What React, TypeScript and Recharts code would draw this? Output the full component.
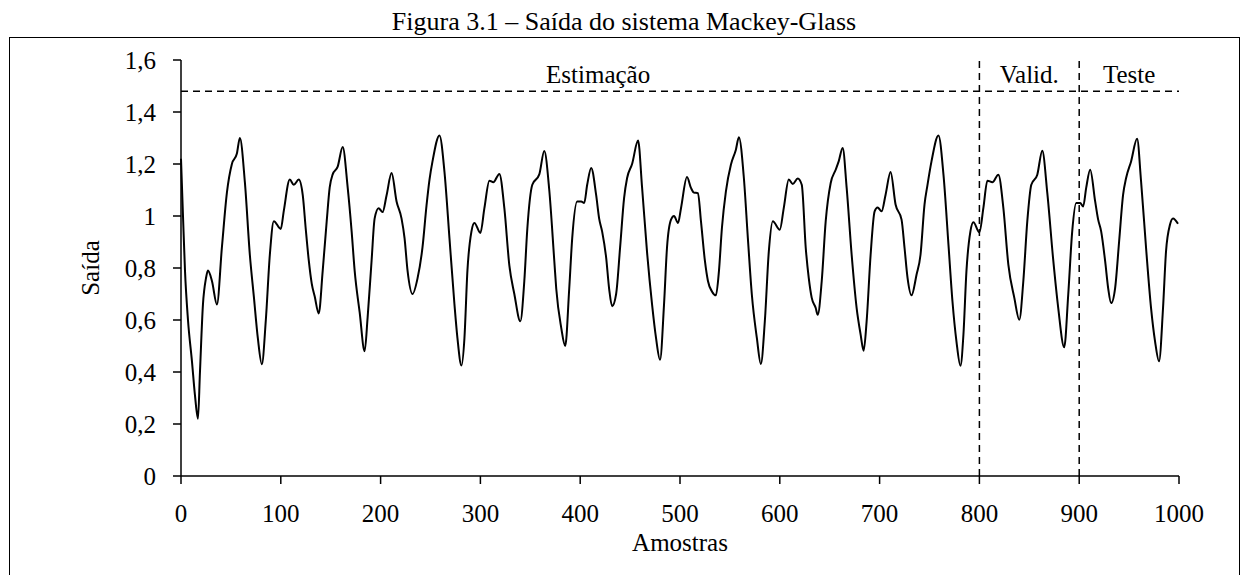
import {
  LineChart,
  Line,
  XAxis,
  YAxis,
  ReferenceLine,
  ReferenceDot,
} from 'recharts';

const FONT = '"Liberation Serif", "Times New Roman", serif';

// [amostra, saída]
const estimacao: [number, number][] = [
  [0, 1.22], [2, 1.0], [4, 0.79], [7, 0.6], [11, 0.44], [14, 0.31], [17, 0.22], [19, 0.4],
  [22, 0.66], [25, 0.76], [27, 0.79], [31, 0.75], [36, 0.66], [41, 0.88], [46, 1.09], [51, 1.2],
  [56, 1.24], [59, 1.3], [64, 1.13], [69, 0.85], [73, 0.69], [77, 0.53], [81, 0.43], [85, 0.6],
  [89, 0.85], [93, 0.98], [100, 0.95], [103, 1.02], [109, 1.14], [113, 1.12], [118, 1.14], [122, 1.08],
  [125, 0.95], [128, 0.83], [131, 0.74], [134, 0.69], [138, 0.625], [142, 0.79], [146, 0.98], [149, 1.11],
  [152, 1.16], [157, 1.19], [162, 1.265], [167, 1.11], [171, 0.94], [174, 0.79], [179, 0.63], [184, 0.48],
  [187, 0.61], [191, 0.83], [194, 0.99], [198, 1.03], [202, 1.015], [206, 1.08], [211, 1.165], [216, 1.056],
  [221, 0.99], [224, 0.915], [227, 0.79], [232, 0.7], [237, 0.76], [242, 0.88], [246, 1.04], [249, 1.14],
  [252, 1.21], [259, 1.31], [264, 1.17], [269, 0.915], [274, 0.66], [277, 0.53], [281, 0.425], [284, 0.53],
  [287, 0.79], [291, 0.94], [294, 0.973], [300, 0.935], [304, 1.03], [309, 1.136], [313, 1.13], [319, 1.162],
  [324, 1.03], [329, 0.81], [334, 0.7], [340, 0.595], [344, 0.75], [347, 0.95], [352, 1.12], [359, 1.16],
  [364, 1.25], [369, 1.1], [374, 0.83], [376, 0.72], [381, 0.57], [385, 0.5], [389, 0.72], [392, 0.915],
  [397, 1.056], [401, 1.056], [404, 1.05], [407, 1.12], [411, 1.185], [416, 1.08], [419, 0.99], [422, 0.94],
  [426, 0.84], [429, 0.72], [432, 0.653], [436, 0.7], [440, 0.88], [444, 1.07], [447, 1.146], [452, 1.2],
  [458, 1.29], [462, 1.11], [467, 0.86], [472, 0.66], [476, 0.53], [480, 0.447], [484, 0.66], [487, 0.88],
  [491, 0.986], [494, 1.0], [498, 0.973], [501, 1.03], [507, 1.15], [511, 1.108], [514, 1.09], [518, 1.088],
  [521, 0.98], [525, 0.826], [528, 0.75], [532, 0.71], [536, 0.695], [539, 0.787], [542, 0.954], [546, 1.095],
  [551, 1.197], [556, 1.255], [559, 1.303], [564, 1.146], [568, 0.915], [572, 0.697], [577, 0.531], [581, 0.431],
  [585, 0.595], [589, 0.864], [593, 0.98], [600, 0.947], [604, 1.031], [609, 1.14], [613, 1.123], [618, 1.144],
  [622, 1.12], [626, 0.877], [629, 0.762], [632, 0.685], [636, 0.646], [638, 0.62], [642, 0.749], [646, 0.98],
  [651, 1.127], [656, 1.178], [659, 1.21], [663, 1.262], [667, 1.108], [672, 0.851], [677, 0.646], [681, 0.544],
  [684, 0.482], [687, 0.595], [691, 0.851], [695, 1.018], [698, 1.033], [702, 1.018], [706, 1.082], [711, 1.169],
  [716, 1.044], [722, 0.986], [725, 0.877], [728, 0.762], [732, 0.695], [737, 0.774], [741, 0.851], [745, 1.044],
  [748, 1.12], [752, 1.21], [759, 1.31], [764, 1.159], [769, 0.89], [773, 0.672], [777, 0.518], [781, 0.424],
  [784, 0.544], [787, 0.787], [791, 0.941], [794, 0.976],
];

const validacao: [number, number][] = [
  [800, 0.937], [804, 1.031], [808, 1.136], [813, 1.13], [819, 1.159], [824, 1.031], [829, 0.813], [835, 0.685],
  [840, 0.601], [844, 0.749], [848, 0.98], [852, 1.12], [858, 1.159], [863, 1.251], [868, 1.09], [874, 0.83],
  [879, 0.646], [885, 0.495], [889, 0.697], [893, 0.941], [897, 1.05],
];

const teste: [number, number][] = [
  [901, 1.05], [904, 1.037], [907, 1.108], [911, 1.178], [916, 1.056], [919, 0.986], [922, 0.941], [926, 0.826],
  [929, 0.723], [932, 0.665], [936, 0.723], [940, 0.902], [944, 1.082], [947, 1.146], [952, 1.21], [958, 1.297],
  [962, 1.133], [967, 0.877], [972, 0.646], [976, 0.518], [980, 0.441], [984, 0.646], [987, 0.864], [991, 0.967],
  [994, 0.99], [999, 0.97],
];

const xTicks = [0, 100, 200, 300, 400, 500, 600, 700, 800, 900, 1000];
const yTicks = [0, 0.2, 0.4, 0.6, 0.8, 1, 1.2, 1.4, 1.6];

const divisoes = [800, 900];
const limiteSuperior = 1.48;
const regioes = [
  { nome: 'Estimação', centro: 418 },
  { nome: 'Valid.', centro: 850 },
  { nome: 'Teste', centro: 950 },
];
const LABEL_Y = 1.545;

const data = [...estimacao, ...validacao, ...teste].map(([x, y]) => ({ x, y }));

const fmtY = (v: number) => (Number.isInteger(v) ? String(v) : v.toFixed(1).replace('.', ','));

const axisStyle = { stroke: '#000', strokeWidth: 1.5 };
const tickStyle = { fontSize: 25, fill: '#000', fontFamily: FONT };

function regionLabel(nome: string) {
  return (props: any) => {
    const vb = props.viewBox || {};
    const cx = (vb.x ?? 0) + (vb.width ?? 0) / 2;
    const cy = (vb.y ?? 0) + (vb.height ?? 0) / 2;
    return (
      <text x={cx} y={cy} dy="0.355em" textAnchor="middle" fontSize={25} fontFamily={FONT} fill="#000">
        {nome}
      </text>
    );
  };
}

export default function App() {
  return (
    <div
      style={{
        position: 'absolute',
        left: 0,
        top: 0,
        width: 1248,
        height: 575,
        background: '#fff',
        overflow: 'hidden',
        fontFamily: FONT,
      }}
    >
      <div
        style={{
          position: 'absolute',
          top: 9,
          left: 0,
          width: 1248,
          textAlign: 'center',
          fontSize: 26,
          lineHeight: '25px',
          color: '#000',
        }}
      >
        Figura 3.1 – Saída do sistema Mackey-Glass
      </div>
      <div
        style={{
          position: 'absolute',
          left: 9,
          top: 37,
          width: 1231,
          height: 600,
          border: '1.5px solid #000',
          boxSizing: 'border-box',
        }}
      />
      <div style={{ position: 'absolute', left: 0, top: 0 }}>
        <LineChart
          width={1248}
          height={575}
          data={data}
          margin={{ top: 60, right: 69, bottom: 69, left: 0 }}
          style={{ fontFamily: FONT }}
        >
          <XAxis
            dataKey="x"
            type="number"
            domain={[0, 1000]}
            ticks={xTicks}
            axisLine={axisStyle}
            tickLine={axisStyle}
            tickSize={8}
            tickMargin={20}
            tick={tickStyle}
            height={30}
            interval={0}
            label={{ value: 'Amostras', position: 'bottom', offset: 27, fontSize: 25, fill: '#000', fontFamily: FONT }}
          />
          <YAxis
            type="number"
            domain={[0, 1.6]}
            ticks={yTicks}
            tickFormatter={fmtY}
            axisLine={axisStyle}
            tickLine={axisStyle}
            tickSize={8}
            tickMargin={17}
            tick={tickStyle}
            width={181}
            interval={0}
            label={{ value: 'Saída', angle: -90, position: 'center', fontSize: 25, fill: '#000', fontFamily: FONT }}
          />
          <ReferenceLine y={limiteSuperior} stroke="#000" strokeWidth={1.5} strokeDasharray="7 5" />
          {divisoes.map((d) => (
            <ReferenceLine key={d} x={d} stroke="#000" strokeWidth={1.5} strokeDasharray="7 5" />
          ))}
          {regioes.map((r) => (
            <ReferenceDot
              key={r.nome}
              x={r.centro}
              y={LABEL_Y}
              r={0}
              fill="none"
              stroke="none"
              label={regionLabel(r.nome)}
            />
          ))}
          <Line
            dataKey="y"
            type="monotone"
            dot={false}
            stroke="#000"
            strokeWidth={2}
            isAnimationActive={false}
          />
        </LineChart>
      </div>
    </div>
  );
}
